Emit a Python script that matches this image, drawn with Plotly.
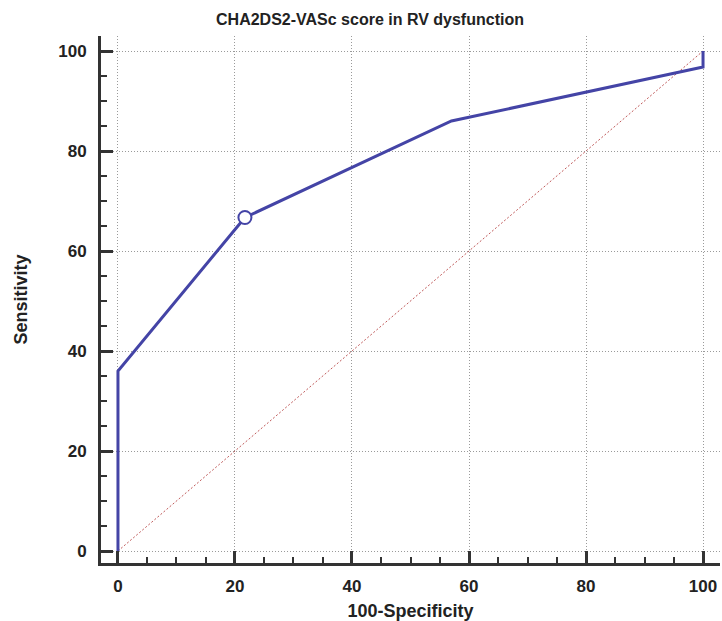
import plotly.graph_objects as go

# ROC curve data
fpr = [0, 0, 21.7, 57, 100, 100]          # 100-Specificity
tpr = [0, 36, 66.7, 86, 96.8, 100]        # Sensitivity
cut_x = [21.7]
cut_y = [66.7]
diag_x = [0, 100]
diag_y = [0, 100]
ticks = [0, 20, 40, 60, 80, 100]

W, H = 722, 621
FONT = "Liberation Sans, Arial, sans-serif"
fig = go.Figure()
fig.add_trace(go.Scatter(x=diag_x, y=diag_y, mode="lines",
                         line=dict(color="#c05a5a", width=1, dash="2px,2px"),
                         showlegend=False, hoverinfo="skip"))
fig.add_trace(go.Scatter(x=fpr, y=tpr, mode="lines",
                         line=dict(color="#4444a6", width=3),
                         showlegend=False))
fig.add_trace(go.Scatter(x=cut_x, y=cut_y, mode="markers",
                         marker=dict(size=13, color="white",
                                     line=dict(color="#4444a6", width=2)),
                         showlegend=False))

tickfont = dict(family=FONT, size=17, color="#222222")
axis_common = dict(
    showline=True, linecolor="#333333", linewidth=3,
    ticks="inside", ticklen=12, tickwidth=3, tickcolor="#333333",
    tickvals=ticks, ticktext=[f"<b>{t}</b>" for t in ticks],
    tickfont=tickfont,
    showgrid=True, gridcolor="#9a9a9a", griddash="1px,2px", gridwidth=1,
    zeroline=False,
    minor=dict(dtick=5, tick0=0, ticks="inside", ticklen=6, tickwidth=2,
               tickcolor="#333333", showgrid=False),
)

fig.update_layout(
    width=W, height=H,
    margin=dict(l=101, r=2, t=36, b=58),
    paper_bgcolor="white", plot_bgcolor="white",
    title=dict(text="<b>CHA2DS2-VASc score in RV dysfunction</b>",
               x=370 / W, xanchor="center", xref="container",
               y=1 - 19 / H, yanchor="middle", yref="container",
               font=dict(family=FONT, size=16, color="#222222")),
    xaxis=dict(range=[-2.9, 102.9], ticklabelstandoff=6, **axis_common,
               title=dict(text="<b>100-Specificity</b>", standoff=10,
                          font=dict(family=FONT, size=18, color="#222222"))),
    yaxis=dict(range=[-2.4, 103], ticklabelstandoff=8, **axis_common,
               title=dict(text="<b>Sensitivity</b>", standoff=26,
                          font=dict(family=FONT, size=18, color="#222222"))),
)

fig.write_html("out.html")
